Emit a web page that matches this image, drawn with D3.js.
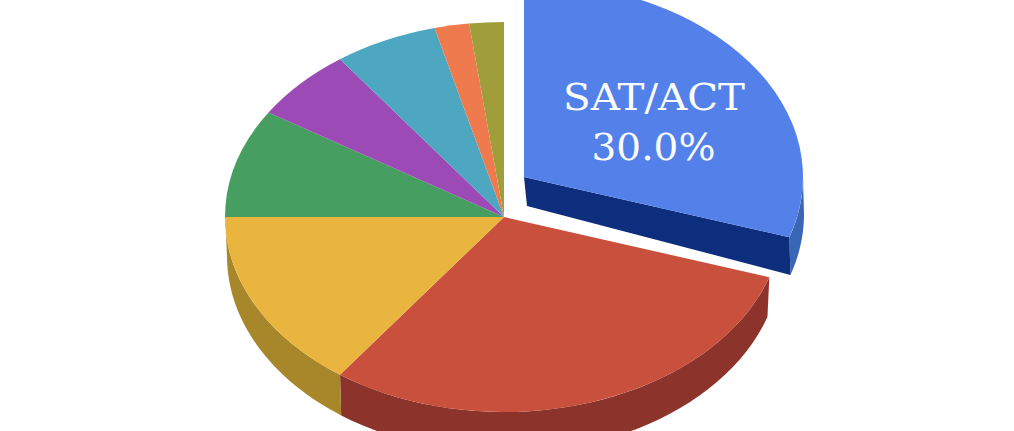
<!DOCTYPE html>
<html lang="en">
  <head>
    <meta charset="UTF-8">
    <title>SAT/ACT share pie</title>
    <script src="https://cdn.jsdelivr.net/npm/d3@7"></script>
    <style>
      html, body { margin: 0; padding: 0; background: #fff; overflow: hidden; }
      text { font-family: 'DejaVu Serif', serif; fill: #fbfcff; text-anchor: middle; }
    </style>
  </head>
  <body>
    <script>
      // Values, clockwise from 12 o'clock
      let shares = [30, 30, 15, 9, 6, 6, 2, 2];
      let topColors = ['#5481e9', '#c9503c', '#e9b53f', '#479e61', '#9c4ab5', '#4da7c1', '#ee7a4e', '#a09e3b'];
      let sideColors = ['#3a66b6', '#8c342c', '#a8862a', '#2f6b41', '#6b3080', '#34738a', '#a85435', '#6e6d28'];
      let labelLines = ['SAT/ACT'];
      let explodedIndex = 0;

      let w = 1014;
      let h = 431;
      let rx = 279;
      let ry = 195;
      let cx = 504;
      let cy = 217;
      let gapX = 20;   // offset of the pulled out slice
      let gapY = -40;

      // The bottom rim is a slightly different ellipse, this fakes the perspective
      let rimRx = 277;
      let rimRy = 197;
      let rimDy = 39;

      let svg = d3.select('body').append('svg')
        .attr('width', w)
        .attr('height', h);

      let slices = d3.pie().sort(null).startAngle(0).endAngle(2 * Math.PI)(shares);
      let unitArc = d3.arc().innerRadius(0).outerRadius(1);

      // Point on an ellipse, angle clockwise from the top like d3.pie
      function onEllipse(a, x0, y0, ex, ey) {
        return [x0 + ex * Math.sin(a), y0 - ey * Math.cos(a)];
      }

      function rimPath(d, x0, y0) {
        // only the front half of the pie shows a wall
        let a0 = Math.max(d.startAngle, Math.PI / 2);
        let a1 = Math.min(d.endAngle, Math.PI * 1.5);
        if (a1 <= a0) return null;
        let steps = d3.range(0, 41).map(i => a0 + (a1 - a0) * i / 40);
        let upper = steps.map(a => onEllipse(a, x0, y0, rx, ry));
        let lower = steps.slice().reverse().map(a => onEllipse(a, x0 + (d.index === explodedIndex ? 3 : 0), y0 + rimDy - (d.index === explodedIndex ? 2 : 0), rimRx, rimRy));
        return d3.line()(upper.concat(lower)) + 'Z';
      }

      // Main body, everything but the pulled out slice
      let body = slices.filter(d => d.index !== explodedIndex);
      svg.selectAll('path.wall')
        .data(body)
        .enter()
        .append('path')
        .attr('class', 'wall')
        .attr('d', d => rimPath(d, cx, cy))
        .attr('fill', d => sideColors[d.index]);

      svg.selectAll('path.face')
        .data(body)
        .enter()
        .append('path')
        .attr('class', 'face')
        .attr('transform', 'translate(' + cx + ',' + cy + ') scale(' + rx + ',' + ry + ')')
        .attr('d', unitArc)
        .attr('fill', d => topColors[d.index]);

      // Pulled out slice
      let ex = slices[explodedIndex];
      let ex0 = cx + gapX;
      let ey0 = cy + gapY;

      svg.append('path')
        .attr('d', rimPath(ex, ex0, ey0))
        .attr('fill', sideColors[explodedIndex]);

      // Cut face of the slice, the darker blue band
      let cornerTop = onEllipse(ex.endAngle, ex0, ey0, rx, ry);
      let cornerBottom = onEllipse(ex.endAngle, ex0 + 3, ey0 + rimDy - 2, rimRx, rimRy);
      svg.append('path')
        .attr('d', d3.line()([[ex0, ey0], cornerTop, cornerBottom, [ex0 + 3, ey0 + 29]]) + 'Z')
        .attr('fill', '#0d2e7d');

      svg.append('path')
        .attr('transform', 'translate(' + ex0 + ',' + ey0 + ') scale(' + rx + ',' + ry + ')')
        .attr('d', unitArc(ex))
        .attr('fill', topColors[explodedIndex]);

      // Label
      svg.append('text')
        .attr('x', 654)
        .attr('y', 110)
        .attr('font-size', 37)
        .attr('textLength', 182)
        .attr('lengthAdjust', 'spacingAndGlyphs')
        .text(labelLines[0]);

      svg.append('text')
        .attr('x', 653.5)
        .attr('y', 160)
        .attr('font-size', 37)
        .attr('textLength', 124)
        .attr('lengthAdjust', 'spacingAndGlyphs')
        .text(d3.format('.1%')(shares[explodedIndex] / d3.sum(shares)));
    </script>
  </body>
</html>
